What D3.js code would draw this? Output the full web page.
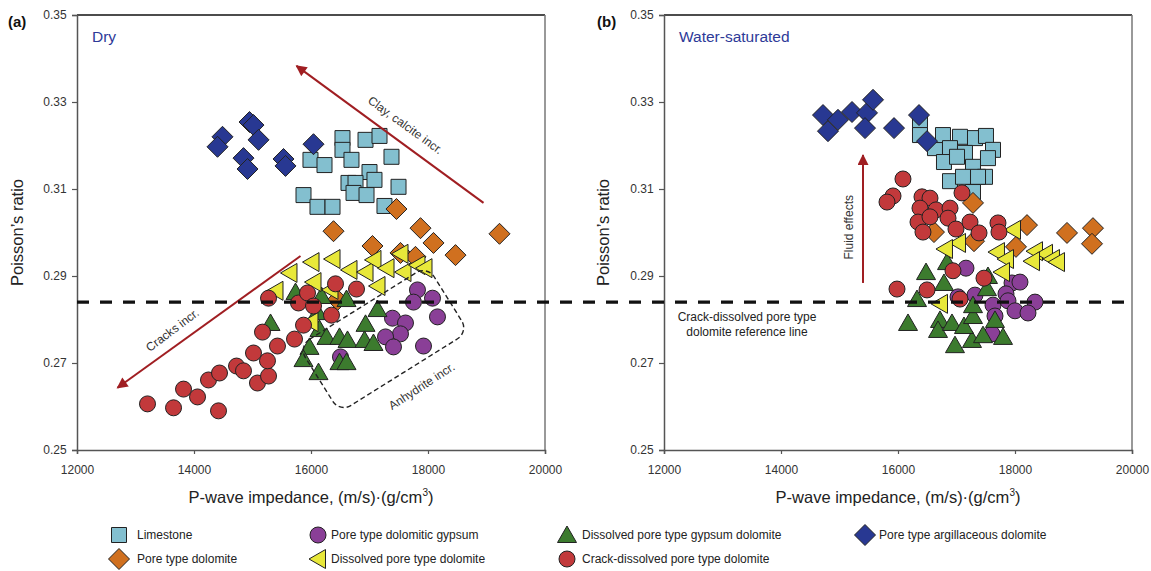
<!DOCTYPE html>
<html><head><meta charset="utf-8">
<script src="https://cdn.jsdelivr.net/npm/d3@7"></script>
<style>body{margin:0;background:#fff}svg{display:block;font-family:"Liberation Sans",Arial,sans-serif}</style>
</head><body><svg id="c" width="1151" height="571"></svg>
<script>
// ---------- data ----------
const seriesNames = ["Limestone","Pore type dolomitic gypsum","Dissolved pore type gypsum dolomite","Pore type argillaceous dolomite","Pore type dolomite","Dissolved pore type dolomite","Crack-dissolved pore type dolomite"];
const xTicks = [12000,14000,16000,18000,20000];
const yTicks = [0.25,0.27,0.29,0.31,0.33,0.35];
const referenceLine = 0.284;

// Dry panel (a)
const dryLimestone = [[16538,0.3217],[16538,0.3190],[16932,0.3213],[17171,0.3222],[17376,0.3174],[15991,0.3167],[16231,0.3155],[16692,0.3167],[17000,0.3139],[16641,0.3114],[16761,0.3114],[17085,0.3121],[16727,0.3091],[16949,0.3086],[17496,0.3105],[15872,0.3086],[16111,0.3059],[16368,0.3059],[17256,0.3061]];
const dryArgillaceous = [[14487,0.3220],[14402,0.3197],[14949,0.3254],[15017,0.3247],[15103,0.3213],[14846,0.3171],[14915,0.3146],[15530,0.3169],[15564,0.3153],[16043,0.3203]];
const dryPoreDolomite = [[17461,0.3054],[16385,0.3003],[17872,0.3010],[18094,0.2976],[18470,0.2948],[19222,0.2997],[17051,0.2969],[17530,0.2953],[17786,0.2944],[16453,0.2845]];
const dryGypsum = [[17820,0.2868],[18077,0.2849],[17752,0.2840],[18162,0.2806],[17393,0.2803],[17615,0.2792],[17530,0.2767],[17274,0.2760],[17410,0.2737],[17923,0.2739],[16504,0.2714]];
const dryGypsumDolomite = [[15308,0.2792],[15735,0.2863],[16180,0.2854],[16607,0.2847],[16111,0.2817],[16145,0.2778],[16265,0.2760],[15974,0.2737],[15872,0.2709],[16128,0.2679],[16487,0.2760],[16624,0.2753],[16487,0.2702],[16607,0.2702],[17137,0.2824],[16932,0.2790],[16915,0.2753],[17068,0.2746]];
const dryDissolved = [[15632,0.2907],[16009,0.2932],[16368,0.2939],[16043,0.2886],[15393,0.2866],[16658,0.2914],[16932,0.2909],[17068,0.2937],[17291,0.2918],[17530,0.2951],[17581,0.2909],[17820,0.2925],[17940,0.2918],[17137,0.2877],[16333,0.2868],[15991,0.2794]];
const dryCrack = [[13205,0.2606],[13650,0.2597],[13821,0.2640],[14060,0.2622],[14419,0.2590],[14248,0.2661],[14436,0.2677],[14727,0.2693],[14846,0.2682],[15085,0.2654],[15274,0.2670],[15256,0.2705],[15017,0.2723],[15427,0.2739],[15171,0.2771],[15718,0.2755],[15872,0.2787],[15274,0.2849],[15786,0.2838],[15940,0.2861],[16043,0.2831],[16350,0.2810],[16419,0.2882],[16778,0.2870]];

// Water-saturated panel (b)
const satLimestone = [[16376,0.3252],[16376,0.3224],[16632,0.3194],[16769,0.3224],[17060,0.3220],[17316,0.3217],[17504,0.3222],[17624,0.3190],[16889,0.3194],[17145,0.3183],[17538,0.3171],[16786,0.3162],[17009,0.3174],[17282,0.3151],[17487,0.3128],[17368,0.3128],[16889,0.3118],[17111,0.3128],[17282,0.3093]];
const satArgillaceous = [[14718,0.3270],[14803,0.3233],[14974,0.3259],[15214,0.3277],[15470,0.3275],[15573,0.3305],[15436,0.3240],[15932,0.3240],[16359,0.3270],[16496,0.3210]];
const satPoreDolomite = [[17282,0.3068],[16615,0.3001],[17299,0.2980],[18205,0.3017],[18017,0.2967],[18889,0.2999],[19333,0.3010],[19316,0.2974]];
const satGypsum = [[17162,0.2918],[17949,0.2884],[18085,0.2886],[17846,0.2859],[17316,0.2856],[17624,0.2833],[17880,0.2843],[18342,0.2840],[18000,0.2820],[18222,0.2815],[17658,0.2808],[17607,0.2767],[17026,0.2852]];
const satGypsumDolomite = [[16479,0.2909],[16838,0.2932],[16786,0.2884],[16325,0.2847],[16171,0.2792],[16718,0.2799],[16684,0.2776],[16923,0.2792],[16974,0.2741],[17265,0.2753],[17453,0.2764],[17795,0.2760],[17128,0.2785],[17282,0.2808],[17282,0.2833],[17658,0.2799],[17521,0.2872],[17538,0.2900]];
const satDissolved = [[17966,0.3006],[17026,0.2976],[16803,0.2962],[17692,0.2955],[17846,0.2939],[17778,0.2909],[18342,0.2957],[18513,0.2951],[18291,0.2934],[18632,0.2939],[18718,0.2932],[16718,0.2836]];
const satCrack = [[16085,0.3123],[15915,0.3084],[15812,0.3070],[16410,0.3082],[16547,0.3079],[16376,0.3056],[16650,0.3052],[16889,0.3056],[17094,0.3091],[16342,0.3024],[16547,0.3036],[16855,0.3033],[16427,0.3001],[16991,0.3008],[17231,0.3024],[17385,0.2999],[17709,0.3022],[17726,0.3001],[16940,0.2912],[17470,0.2895],[15983,0.2870],[16496,0.2868],[17060,0.2847]];

// ---------- styles ----------
const styles = {
  "Limestone":{shape:"square",fill:"#83bfcf"},
  "Pore type dolomitic gypsum":{shape:"circle",fill:"#8a3f97"},
  "Dissolved pore type gypsum dolomite":{shape:"triUp",fill:"#3c7b2e"},
  "Pore type argillaceous dolomite":{shape:"diamond",fill:"#283892"},
  "Pore type dolomite":{shape:"diamond",fill:"#d0701f"},
  "Dissolved pore type dolomite":{shape:"triLeft",fill:"#e8e83a"},
  "Crack-dissolved pore type dolomite":{shape:"circle",fill:"#c2393b"}
};
function shapePath(s){
  switch(s){
    case "square": return "M-7.5,-7.5H7.5V7.5H-7.5Z";
    case "diamond": return "M0,-10.5L10.5,0L0,10.5L-10.5,0Z";
    case "circle": return "M8,0A8,8 0 1,1 -8,0A8,8 0 1,1 8,0Z";
    case "triUp": return "M0,-9L9.5,7.5L-9.5,7.5Z";
    case "triLeft": return "M-9,0L7.5,-9.5L7.5,9.5Z";
  }
}

const svg = d3.select("#c");
const plotTop = 15, plotBottom = 450;
const panels = [
  {id:"(a)", label:"Dry", left:77, right:545, labelX:8, titleX:23,
   series:[["Limestone",dryLimestone],["Pore type argillaceous dolomite",dryArgillaceous],["Pore type dolomite",dryPoreDolomite],["Pore type dolomitic gypsum",dryGypsum],["Dissolved pore type gypsum dolomite",dryGypsumDolomite],["Dissolved pore type dolomite",dryDissolved],["Crack-dissolved pore type dolomite",dryCrack]]},
  {id:"(b)", label:"Water-saturated", left:664, right:1132, labelX:597, titleX:609,
   series:[["Limestone",satLimestone],["Pore type argillaceous dolomite",satArgillaceous],["Pore type dolomite",satPoreDolomite],["Pore type dolomitic gypsum",satGypsum],["Dissolved pore type gypsum dolomite",satGypsumDolomite],["Dissolved pore type dolomite",satDissolved],["Crack-dissolved pore type dolomite",satCrack]]}
];
const y = d3.scaleLinear().domain([0.25,0.35]).range([plotBottom,plotTop]);
const arrowColor = "#a01e22";

svg.append("defs").append("marker").attr("id","ah").attr("viewBox","0 0 10 10")
  .attr("refX",9).attr("refY",5).attr("markerWidth",6.5).attr("markerHeight",5.5)
  .attr("markerUnits","strokeWidth").attr("orient","auto")
  .append("path").attr("d","M0,0L10,5L0,10Z").attr("fill",arrowColor);

panels.forEach((p,i)=>{
  const x = d3.scaleLinear().domain([12000,20000]).range([p.left,p.right]);
  p.x = x;
  const g = svg.append("g");
  g.append("line").attr("x1",p.left).attr("x2",p.right).attr("y1",plotTop).attr("y2",plotTop).attr("stroke","#111").attr("stroke-width",1.5);
  g.append("line").attr("x1",p.right).attr("x2",p.right).attr("y1",plotTop).attr("y2",plotBottom).attr("stroke","#777").attr("stroke-width",1.5);
  const ax = g.append("g").attr("transform",`translate(0,${plotBottom})`)
    .call(d3.axisBottom(x).tickValues(xTicks).tickFormat(d3.format("d")).tickSizeOuter(0).tickSize(4));
  const ay = g.append("g").attr("transform",`translate(${p.left},0)`)
    .call(d3.axisLeft(y).tickValues(yTicks).tickFormat(d3.format(".2f")).tickSizeOuter(0).tickSize(5));
  [ax,ay].forEach(a=>{
    a.select(".domain").attr("stroke","#555").attr("stroke-width",1.5);
    a.selectAll(".tick line").attr("stroke","#555").attr("stroke-width",1.2);
    a.selectAll(".tick text").attr("fill","#333").attr("font-size",12).attr("font-family","Liberation Sans, Arial, sans-serif");
  });
  ax.selectAll(".tick text").attr("dy","1.4em");
  ay.selectAll(".tick text").attr("dx","-0.2em");
  svg.append("text").attr("x",p.labelX).attr("y",27).attr("font-size",15).attr("font-weight","bold").attr("fill","#111").text(p.id);
  svg.append("text").attr("x",p.left+15).attr("y",42).attr("font-size",15.5).attr("fill","#2e3a98").text(p.label);
  svg.append("text").attr("transform",`translate(${p.titleX},${(plotTop+plotBottom)/2}) rotate(-90)`)
    .attr("text-anchor","middle").attr("font-size",16.5).attr("fill","#222").text("Poisson\u2019s ratio");
  const xt = svg.append("text").attr("x",(p.left+p.right)/2).attr("y",503).attr("text-anchor","middle").attr("font-size",16.5).attr("fill","#222");
  xt.append("tspan").text("P-wave impedance, (m/s)\u00b7(g/cm");
  xt.append("tspan").attr("font-size",10).attr("dy",-7).text("3");
  xt.append("tspan").attr("dy",7).text(")");
});

const xa = panels[0].x, xb = panels[1].x;

const ann = svg.append("g");
ann.append("line").attr("x1",xa(18949)).attr("y1",y(0.3068)).attr("x2",xa(15752)).attr("y2",y(0.3383))
  .attr("stroke",arrowColor).attr("stroke-width",2).attr("marker-end","url(#ah)");
ann.append("line").attr("x1",xa(15821)).attr("y1",y(0.2946)).attr("x2",xa(12692)).attr("y2",y(0.2643))
  .attr("stroke",arrowColor).attr("stroke-width",2).attr("marker-end","url(#ah)");
ann.append("text").attr("transform",`translate(${xa(17615)},${y(0.3247)}) rotate(36)`).attr("text-anchor","middle")
  .attr("font-size",12).attr("fill","#333").attr("dy","0.35em").text("Clay, calcite incr.");
ann.append("text").attr("transform",`translate(${xa(13630)},${y(0.2776)}) rotate(-37)`).attr("text-anchor","middle")
  .attr("font-size",12).attr("fill","#333").attr("dy","0.35em").text("Cracks incr.");
const rc = [xa(17239), y(0.2755)];
ann.append("rect").attr("x",-76).attr("y",-39).attr("width",152).attr("height",78).attr("rx",13)
  .attr("transform",`translate(${rc[0]},${rc[1]}) rotate(-32)`)
  .attr("fill","none").attr("stroke","#222").attr("stroke-width",1.4).attr("stroke-dasharray","5,3");

panels.forEach(p=>{
  const g = svg.append("g");
  p.series.forEach(([name,data])=>{
    const st = styles[name];
    g.append("g").selectAll("path").data(data).join("path")
      .attr("d",shapePath(st.shape))
      .attr("transform",d=>`translate(${p.x(d[0])},${y(d[1])})`)
      .attr("fill",st.fill).attr("stroke","#222").attr("stroke-width",1);
  });
});

ann.raise();
svg.append("text").attr("transform",`translate(${xa(17889)},${y(0.2647)}) rotate(-33)`).attr("text-anchor","middle")
  .attr("font-size",12).attr("fill","#333").attr("dy","0.35em").text("Anhydrite incr.");

svg.append("line").attr("x1",xa(12000)).attr("x2",xb(20000)).attr("y1",y(referenceLine)).attr("y2",y(referenceLine))
  .attr("stroke","#111").attr("stroke-width",3.2).attr("stroke-dasharray","12,11");

svg.append("line").attr("x1",xb(15402)).attr("x2",xb(15402)).attr("y1",y(0.2884)).attr("y2",y(0.3178))
  .attr("stroke",arrowColor).attr("stroke-width",2).attr("marker-end","url(#ah)");
svg.append("text").attr("transform",`translate(${xb(15402)-10},${y(0.3012)}) rotate(-90)`).attr("text-anchor","middle")
  .attr("font-size",12).attr("fill","#333").text("Fluid effects");
const rl = svg.append("text").attr("text-anchor","middle").attr("font-size",12).attr("fill","#222");
rl.append("tspan").attr("x",xb(13419)).attr("y",y(0.2797)).text("Crack-dissolved pore type");
rl.append("tspan").attr("x",xb(13419)).attr("y",y(0.2762)).text("dolomite reference line");

const legendRows = [
  [["Limestone",119,137],["Pore type dolomitic gypsum",318,331],["Dissolved pore type gypsum dolomite",567,582],["Pore type argillaceous dolomite",865,879]],
  [["Pore type dolomite",119,137],["Dissolved pore type dolomite",318,331],["Crack-dissolved pore type dolomite",567,582]]
];
const legendY = [535,559];
const lg = svg.append("g");
legendRows.forEach((row,ri)=>{
  row.forEach(([name,mx,tx])=>{
    const st = styles[name];
    lg.append("path").attr("d",shapePath(st.shape)).attr("transform",`translate(${mx},${legendY[ri]})`)
      .attr("fill",st.fill).attr("stroke","#222").attr("stroke-width",1);
    lg.append("text").attr("x",tx).attr("y",legendY[ri]).attr("dy","0.35em").attr("font-size",12).attr("fill","#222").text(name);
  });
});
</script></body></html>
